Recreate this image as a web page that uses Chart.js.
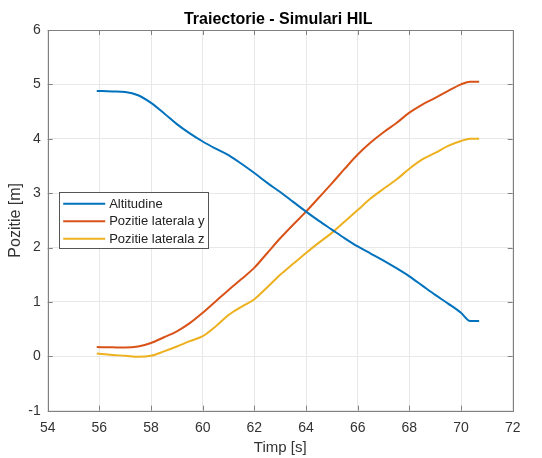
<!DOCTYPE html>
<html>
<head>
<meta charset="utf-8">
<script src="https://cdn.jsdelivr.net/npm/chart.js@4/dist/chart.umd.min.js"></script>
<style>
html,body{margin:0;padding:0;background:#fff;}
canvas{display:block;}
</style>
</head>
<body>
<canvas id="c" width="542" height="458"></canvas>
<script>
// ---- data ----
const timeS = [55.9, 56.5, 57, 57.5, 58, 58.5, 59, 59.5, 60, 60.5, 61, 61.5, 62, 62.5, 63, 63.5, 64, 64.5, 65, 65.5, 66, 66.5, 67, 67.5, 68, 68.5, 69, 69.5, 70, 70.35, 70.7];
const altitudine = [4.88, 4.87, 4.86, 4.80, 4.66, 4.47, 4.27, 4.10, 3.95, 3.82, 3.70, 3.54, 3.37, 3.19, 3.02, 2.84, 2.66, 2.49, 2.33, 2.17, 2.02, 1.89, 1.76, 1.62, 1.47, 1.30, 1.13, 0.97, 0.80, 0.65, 0.65];
const lateralaY = [0.17, 0.165, 0.16, 0.18, 0.245, 0.35, 0.46, 0.61, 0.80, 1.01, 1.22, 1.42, 1.63, 1.90, 2.17, 2.42, 2.66, 2.92, 3.18, 3.45, 3.71, 3.93, 4.12, 4.29, 4.48, 4.63, 4.75, 4.88, 5.00, 5.05, 5.05];
const lateralaZ = [0.05, 0.025, 0.01, -0.01, 0.01, 0.09, 0.18, 0.28, 0.37, 0.55, 0.76, 0.91, 1.05, 1.27, 1.50, 1.70, 1.90, 2.09, 2.27, 2.48, 2.69, 2.90, 3.08, 3.25, 3.45, 3.62, 3.74, 3.87, 3.96, 4.00, 4.00];
const seriesLabels = ['Altitudine', 'Pozitie laterala y', 'Pozitie laterala z'];
const xTicks = [54, 56, 58, 60, 62, 64, 66, 68, 70, 72];
const yTicks = [-1, 0, 1, 2, 3, 4, 5, 6];
const chartTitle = 'Traiectorie - Simulari HIL';
const xTitle = 'Timp [s]';
const yTitle = 'Pozitie [m]';

// ---- styling ----
const colors = ['#0072BD', '#D95319', '#EDB120'];
const textColor = '#333333';
const axisColor = '#808080';
const gridColor = '#e8e8e8';
const FONT = "'Liberation Sans', Arial, Helvetica, sans-serif";
Chart.defaults.font.family = FONT;
Chart.defaults.color = textColor;

const toPts = (ys) => timeS.map((t, i) => ({x: t, y: ys[i]}));
const allSeries = [altitudine, lateralaY, lateralaZ];

const matlabPlugin = {
  id: 'matlabDecor',
  afterDraw(chart) {
    const {ctx, chartArea: a, scales: {x, y}} = chart;
    ctx.save();
    // inward ticks
    ctx.strokeStyle = axisColor;
    ctx.lineWidth = 1;
    const tl = 5;
    ctx.beginPath();
    xTicks.forEach(v => {
      const px = Math.round(x.getPixelForValue(v)) + 0.5;
      ctx.moveTo(px, a.bottom); ctx.lineTo(px, a.bottom - tl);
      ctx.moveTo(px, a.top); ctx.lineTo(px, a.top + tl);
    });
    yTicks.forEach(v => {
      const py = Math.round(y.getPixelForValue(v)) + 0.5;
      ctx.moveTo(a.left, py); ctx.lineTo(a.left + tl, py);
      ctx.moveTo(a.right, py); ctx.lineTo(a.right - tl, py);
    });
    ctx.stroke();
    // box
    ctx.strokeRect(Math.round(a.left) + 0.5, Math.round(a.top) + 0.5,
                   Math.round(a.right - a.left), Math.round(a.bottom - a.top));
    // title
    ctx.fillStyle = '#000';
    ctx.font = 'bold 16px ' + FONT;
    ctx.textAlign = 'center';
    ctx.textBaseline = 'middle';
    ctx.fillText(chartTitle, (a.left + a.right) / 2 - 2, 20);
    // legend
    const lx = a.left + 11.5, ly = a.top + 162, lw = 149, lh = 56;
    ctx.fillStyle = '#fff';
    ctx.fillRect(lx, ly, lw, lh);
    ctx.strokeStyle = '#555';
    ctx.strokeRect(Math.round(lx) + 0.5, Math.round(ly) + 0.5, lw, lh);
    ctx.font = '13px ' + FONT;
    ctx.textAlign = 'left';
    chart.data.datasets.forEach((ds, i) => {
      const ry = ly + 11.7 + i * 17.5;
      ctx.strokeStyle = ds.borderColor;
      ctx.lineWidth = 2;
      ctx.beginPath();
      ctx.moveTo(lx + 4, ry); ctx.lineTo(lx + 46, ry);
      ctx.stroke();
      ctx.fillStyle = '#222';
      ctx.fillText(ds.label, lx + 50, ry + 0.5);
    });
    ctx.restore();
  }
};

new Chart(document.getElementById('c'), {
  type: 'line',
  data: {
    datasets: allSeries.map((ys, i) => ({
      label: seriesLabels[i],
      data: toPts(ys),
      borderColor: colors[i],
      backgroundColor: colors[i],
      borderWidth: 2,
      pointRadius: 0,
      fill: false,
      cubicInterpolationMode: 'monotone'
    }))
  },
  options: {
    responsive: false,
    animation: false,
    devicePixelRatio: 1,
    layout: {padding: {top: 30, right: 29.3, left: 0, bottom: 0}},
    plugins: {legend: {display: false}, tooltip: {enabled: false}, title: {display: false}},
    scales: {
      x: {
        type: 'linear',
        min: 54, max: 72,
        afterBuildTicks: (s) => { s.ticks = xTicks.map(v => ({value: v})); },
        afterFit: (s) => { s.height = 47.3; },
        grid: {color: gridColor, drawTicks: false, lineWidth: 1},
        border: {display: false},
        ticks: {padding: 9, font: {size: 14}, color: textColor, maxRotation: 0, autoSkip: false},
        title: {display: true, text: xTitle, font: {size: 15}, color: textColor, padding: {top: 0, bottom: 1}}
      },
      y: {
        type: 'linear',
        min: -1, max: 6,
        afterBuildTicks: (s) => { s.ticks = yTicks.map(v => ({value: v})); },
        afterFit: (s) => { s.width = 47.7; },
        grid: {color: gridColor, drawTicks: false, lineWidth: 1},
        border: {display: false},
        ticks: {padding: 7, font: {size: 14}, color: textColor, autoSkip: false},
        title: {display: true, text: yTitle, font: {size: 16}, color: textColor, padding: {top: 6, bottom: 0}}
      }
    }
  },
  plugins: [matlabPlugin]
});
</script>
</body>
</html>
